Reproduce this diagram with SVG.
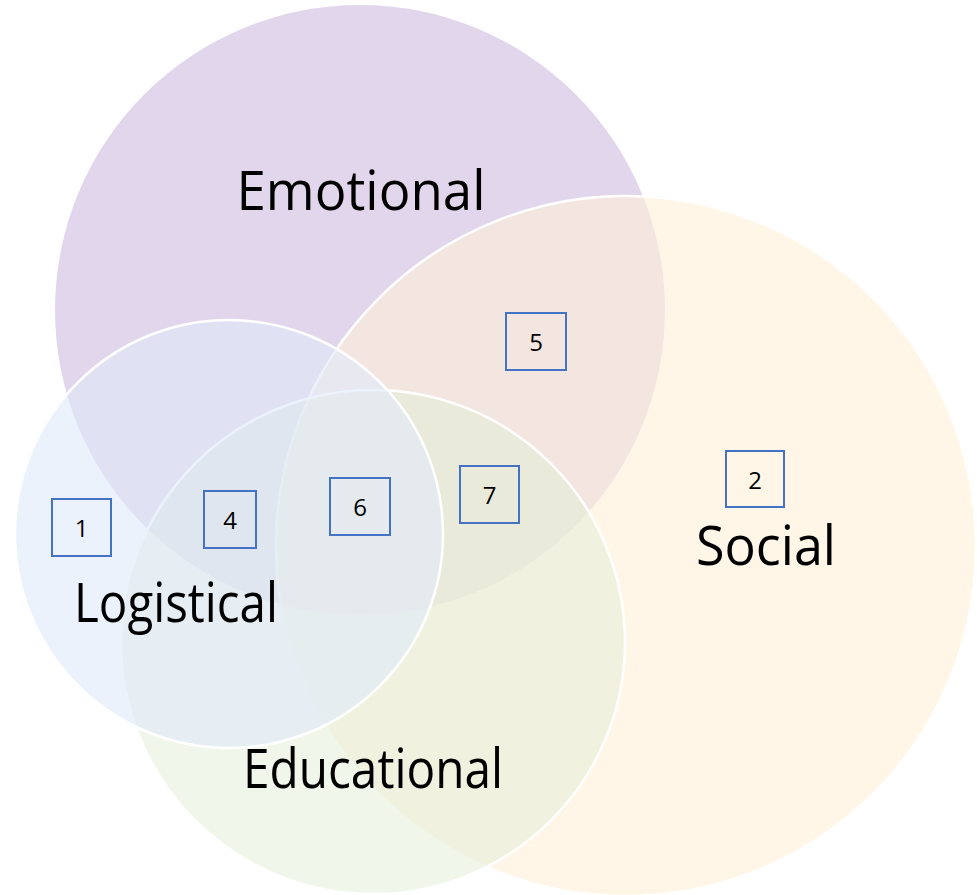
<svg xmlns="http://www.w3.org/2000/svg" width="977" height="895" viewBox="0 0 977 895">
  <style>
    .set { stroke: #ffffff; stroke-width: 2.5; }
    .lbl { font-family: "Open Sans", "Liberation Sans", sans-serif; font-size: 54px; fill: #000000; text-anchor: middle; }
    .box { fill: none; stroke: #4472c4; stroke-width: 2; }
    .num { font-family: "Open Sans", "Liberation Sans", sans-serif; font-size: 24px; fill: #000000; text-anchor: middle; }
  </style>
  <rect width="977" height="895" fill="#ffffff"/>
  <g id="emotional">
    <circle cx="360" cy="310" r="305" fill="#7030a0" fill-opacity="0.2"/>
  </g>
  <g id="social">
    <circle class="set" cx="626" cy="546" r="350" fill="#fff0d8" fill-opacity="0.6"/>
  </g>
  <g id="educational">
    <circle class="set" cx="373" cy="642" r="252" fill="#e2eed6" fill-opacity="0.5"/>
  </g>
  <g id="logistical">
    <circle class="set" cx="229" cy="534" r="214" fill="#e0eafa" fill-opacity="0.6"/>
  </g>
  <g id="labels">
    <text class="lbl" x="361" y="210" textLength="249" lengthAdjust="spacingAndGlyphs">Emotional</text>
    <text class="lbl" x="766" y="565" textLength="140" lengthAdjust="spacingAndGlyphs">Social</text>
    <text class="lbl" x="176" y="622" textLength="204" lengthAdjust="spacingAndGlyphs">Logistical</text>
    <text class="lbl" x="373" y="788" textLength="260" lengthAdjust="spacingAndGlyphs">Educational</text>
  </g>
  <g id="box1">
    <rect class="box" x="52" y="499" width="59" height="57"/>
    <text class="num" x="81.5" y="537">1</text>
  </g>
  <g id="box2">
    <rect class="box" x="726" y="451" width="58" height="56"/>
    <text class="num" x="755" y="489">2</text>
  </g>
  <g id="box4">
    <rect class="box" x="204" y="491" width="52" height="57"/>
    <text class="num" x="230" y="529">4</text>
  </g>
  <g id="box5">
    <rect class="box" x="506" y="313" width="60" height="57"/>
    <text class="num" x="536" y="351">5</text>
  </g>
  <g id="box6">
    <rect class="box" x="330" y="478" width="60" height="57"/>
    <text class="num" x="360" y="516">6</text>
  </g>
  <g id="box7">
    <rect class="box" x="460" y="466" width="59" height="57"/>
    <text class="num" x="489.5" y="504">7</text>
  </g>
  <g id="connectors"></g>
</svg>
